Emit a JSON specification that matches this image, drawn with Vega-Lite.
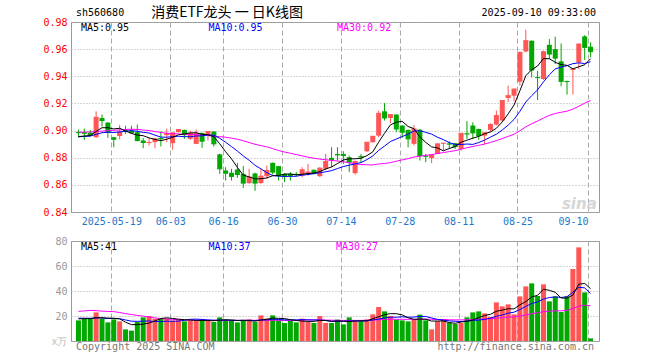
{
"$schema": "https://vega.github.io/schema/vega-lite/v6.json",
"background": "white",
"padding": {"left": 40, "top": 5, "right": 5, "bottom": 5},
"config": {"view": {"stroke": "#999999", "strokeWidth": 1}, "text": {"font": "DejaVu Sans Mono"}},
"spacing": 29,
"bounds": "flush",
"datasets": {"k": [
{"i":0,"d":"2025-05-09","o":0.8990,"h":0.9007,"l":0.8951,"c":0.8985,"v":16.5,"m5":0.8955,"m10":0.8954,"m30":0.8988,"vm5":17.7,"vm10":18.25,"vm30":23.7},
{"i":1,"d":"2025-05-12","o":0.8988,"h":0.9015,"l":0.8931,"c":0.8980,"v":17.9,"m5":0.8960,"m10":0.8957,"m30":0.8989,"vm5":17.88,"vm10":18.24,"vm30":24.1},
{"i":2,"d":"2025-05-13","o":0.8985,"h":0.9005,"l":0.8960,"c":0.8966,"v":17.9,"m5":0.8963,"m10":0.8959,"m30":0.8990,"vm5":17.86,"vm10":18.13,"vm30":24.5},
{"i":3,"d":"2025-05-14","o":0.8951,"h":0.9142,"l":0.8946,"c":0.9098,"v":22.9,"m5":0.8994,"m10":0.8972,"m30":0.8993,"vm5":18.64,"vm10":18.42,"vm30":24.3},
{"i":4,"d":"2025-05-15","o":0.9093,"h":0.9118,"l":0.9030,"c":0.9074,"v":17.9,"m5":0.9021,"m10":0.8984,"m30":0.8996,"vm5":18.62,"vm10":18.41,"vm30":23.9},
{"i":5,"d":"2025-05-16","o":0.9059,"h":0.9061,"l":0.8946,"c":0.8988,"v":14.9,"m5":0.9021,"m10":0.8988,"m30":0.8999,"vm5":18.3,"vm10":18.0,"vm30":23.7},
{"i":6,"d":"2025-05-19","o":0.8951,"h":0.8953,"l":0.8877,"c":0.8936,"v":17.3,"m5":0.9012,"m10":0.8986,"m30":0.9002,"vm5":18.18,"vm10":18.03,"vm30":23.5},
{"i":7,"d":"2025-05-20","o":0.8960,"h":0.9042,"l":0.8935,"c":0.8990,"v":15.7,"m5":0.9017,"m10":0.8990,"m30":0.9005,"vm5":17.74,"vm10":17.8,"vm30":22.8},
{"i":8,"d":"2025-05-21","o":0.9003,"h":0.9035,"l":0.8975,"c":0.8995,"v":9.3,"m5":0.8997,"m10":0.8995,"m30":0.9008,"vm5":15.02,"vm10":16.83,"vm30":21.9},
{"i":9,"d":"2025-05-22","o":0.9000,"h":0.9035,"l":0.8975,"c":0.8985,"v":8.3,"m5":0.8979,"m10":0.9000,"m30":0.9010,"vm5":13.1,"vm10":15.86,"vm30":21.2},
{"i":10,"d":"2025-05-23","o":0.8988,"h":0.9044,"l":0.8920,"c":0.8927,"v":15.2,"m5":0.8967,"m10":0.8994,"m30":0.9008,"vm5":13.16,"vm10":15.73,"vm30":20.5},
{"i":11,"d":"2025-05-26","o":0.8927,"h":0.8946,"l":0.8870,"c":0.8912,"v":18.9,"m5":0.8962,"m10":0.8987,"m30":0.9004,"vm5":13.48,"vm10":15.83,"vm30":19.9},
{"i":12,"d":"2025-05-27","o":0.8909,"h":0.8946,"l":0.8890,"c":0.8912,"v":20.0,"m5":0.8946,"m10":0.8982,"m30":0.9000,"vm5":14.34,"vm10":16.04,"vm30":19.2},
{"i":13,"d":"2025-05-28","o":0.8915,"h":0.8946,"l":0.8870,"c":0.8939,"v":17.9,"m5":0.8935,"m10":0.8966,"m30":0.8993,"vm5":16.06,"vm10":15.54,"vm30":18.5},
{"i":14,"d":"2025-05-29","o":0.8946,"h":0.8995,"l":0.8883,"c":0.8940,"v":17.9,"m5":0.8926,"m10":0.8952,"m30":0.8986,"vm5":17.98,"vm10":15.54,"vm30":17.9},
{"i":15,"d":"2025-05-30","o":0.8966,"h":0.9015,"l":0.8915,"c":0.8975,"v":17.9,"m5":0.8936,"m10":0.8951,"m30":0.8980,"vm5":18.52,"vm10":15.84,"vm30":17.6},
{"i":16,"d":"2025-06-03","o":0.8907,"h":0.8985,"l":0.8858,"c":0.8983,"v":16.5,"m5":0.8950,"m10":0.8956,"m30":0.8977,"vm5":18.04,"vm10":15.76,"vm30":17.3},
{"i":17,"d":"2025-06-04","o":0.8988,"h":0.9010,"l":0.8985,"c":0.9007,"v":17.1,"m5":0.8969,"m10":0.8958,"m30":0.8975,"vm5":17.46,"vm10":15.9,"vm30":17.1},
{"i":18,"d":"2025-06-05","o":0.9005,"h":0.9007,"l":0.8939,"c":0.8970,"v":15.7,"m5":0.8975,"m10":0.8955,"m30":0.8973,"vm5":17.02,"vm10":16.54,"vm30":16.9},
{"i":19,"d":"2025-06-06","o":0.8939,"h":0.9000,"l":0.8931,"c":0.8980,"v":16.5,"m5":0.8983,"m10":0.8955,"m30":0.8971,"vm5":16.74,"vm10":17.36,"vm30":16.8},
{"i":20,"d":"2025-06-09","o":0.8902,"h":0.9007,"l":0.8900,"c":0.8980,"v":16.5,"m5":0.8984,"m10":0.8960,"m30":0.8970,"vm5":16.46,"vm10":17.49,"vm30":16.7},
{"i":21,"d":"2025-06-10","o":0.8983,"h":0.8985,"l":0.8873,"c":0.8922,"v":16.5,"m5":0.8972,"m10":0.8961,"m30":0.8966,"vm5":16.46,"vm10":17.25,"vm30":16.6},
{"i":22,"d":"2025-06-11","o":0.8963,"h":0.8995,"l":0.8927,"c":0.8993,"v":16.5,"m5":0.8969,"m10":0.8969,"m30":0.8963,"vm5":16.34,"vm10":16.9,"vm30":16.5},
{"i":23,"d":"2025-06-12","o":0.8993,"h":0.8995,"l":0.8882,"c":0.8902,"v":15.2,"m5":0.8955,"m10":0.8965,"m30":0.8959,"vm5":16.24,"vm10":16.63,"vm30":16.5},
{"i":24,"d":"2025-06-13","o":0.8825,"h":0.8830,"l":0.8681,"c":0.8718,"v":18.9,"m5":0.8903,"m10":0.8943,"m30":0.8955,"vm5":16.72,"vm10":16.73,"vm30":16.5},
{"i":25,"d":"2025-06-16","o":0.8706,"h":0.8730,"l":0.8632,"c":0.8686,"v":17.3,"m5":0.8844,"m10":0.8914,"m30":0.8951,"vm5":16.88,"vm10":16.67,"vm30":16.5},
{"i":26,"d":"2025-06-17","o":0.8689,"h":0.8718,"l":0.8632,"c":0.8662,"v":16.0,"m5":0.8792,"m10":0.8882,"m30":0.8944,"vm5":16.78,"vm10":16.62,"vm30":16.5},
{"i":27,"d":"2025-06-18","o":0.8713,"h":0.8762,"l":0.8652,"c":0.8676,"v":14.9,"m5":0.8729,"m10":0.8849,"m30":0.8936,"vm5":16.46,"vm10":16.4,"vm30":16.5},
{"i":28,"d":"2025-06-19","o":0.8681,"h":0.8740,"l":0.8578,"c":0.8613,"v":16.0,"m5":0.8671,"m10":0.8813,"m30":0.8925,"vm5":16.62,"vm10":16.43,"vm30":16.5},
{"i":29,"d":"2025-06-20","o":0.8613,"h":0.8718,"l":0.8608,"c":0.8657,"v":17.3,"m5":0.8659,"m10":0.8781,"m30":0.8912,"vm5":16.3,"vm10":16.51,"vm30":16.58},
{"i":30,"d":"2025-06-23","o":0.8684,"h":0.8690,"l":0.8556,"c":0.8613,"v":15.2,"m5":0.8644,"m10":0.8744,"m30":0.8899,"vm5":15.88,"vm10":16.38,"vm30":16.53},
{"i":31,"d":"2025-06-24","o":0.8613,"h":0.8718,"l":0.8608,"c":0.8664,"v":20.5,"m5":0.8645,"m10":0.8718,"m30":0.8889,"vm5":16.78,"vm10":16.78,"vm30":16.62},
{"i":32,"d":"2025-06-25","o":0.8664,"h":0.8743,"l":0.8645,"c":0.8706,"v":17.9,"m5":0.8651,"m10":0.8690,"m30":0.8880,"vm5":17.38,"vm10":16.92,"vm30":16.62},
{"i":33,"d":"2025-06-26","o":0.8762,"h":0.8765,"l":0.8676,"c":0.8694,"v":20.5,"m5":0.8667,"m10":0.8669,"m30":0.8867,"vm5":18.28,"vm10":17.45,"vm30":16.54},
{"i":34,"d":"2025-06-27","o":0.8738,"h":0.8740,"l":0.8632,"c":0.8669,"v":16.5,"m5":0.8669,"m10":0.8664,"m30":0.8853,"vm5":18.12,"vm10":17.21,"vm30":16.49},
{"i":35,"d":"2025-06-30","o":0.8681,"h":0.8686,"l":0.8620,"c":0.8664,"v":14.4,"m5":0.8679,"m10":0.8662,"m30":0.8842,"vm5":17.96,"vm10":16.92,"vm30":16.48},
{"i":36,"d":"2025-07-01","o":0.8681,"h":0.8694,"l":0.8632,"c":0.8669,"v":16.0,"m5":0.8680,"m10":0.8663,"m30":0.8833,"vm5":17.06,"vm10":16.92,"vm30":16.43},
{"i":37,"d":"2025-07-02","o":0.8681,"h":0.8694,"l":0.8664,"c":0.8676,"v":14.9,"m5":0.8674,"m10":0.8663,"m30":0.8823,"vm5":16.46,"vm10":16.92,"vm30":16.41},
{"i":38,"d":"2025-07-03","o":0.8669,"h":0.8730,"l":0.8657,"c":0.8711,"v":17.9,"m5":0.8678,"m10":0.8672,"m30":0.8814,"vm5":15.94,"vm10":17.11,"vm30":16.69},
{"i":39,"d":"2025-07-04","o":0.8681,"h":0.8755,"l":0.8669,"c":0.8694,"v":15.2,"m5":0.8683,"m10":0.8676,"m30":0.8804,"vm5":15.68,"vm10":16.9,"vm30":16.92},
{"i":40,"d":"2025-07-07","o":0.8711,"h":0.8713,"l":0.8676,"c":0.8686,"v":14.4,"m5":0.8687,"m10":0.8683,"m30":0.8796,"vm5":15.68,"vm10":16.82,"vm30":16.9},
{"i":41,"d":"2025-07-08","o":0.8664,"h":0.8730,"l":0.8657,"c":0.8723,"v":20.0,"m5":0.8698,"m10":0.8689,"m30":0.8790,"vm5":16.48,"vm10":16.77,"vm30":16.93},
{"i":42,"d":"2025-07-09","o":0.8718,"h":0.8828,"l":0.8706,"c":0.8772,"v":14.4,"m5":0.8717,"m10":0.8696,"m30":0.8785,"vm5":16.38,"vm10":16.42,"vm30":16.75},
{"i":43,"d":"2025-07-10","o":0.8799,"h":0.8877,"l":0.8730,"c":0.8784,"v":14.4,"m5":0.8732,"m10":0.8705,"m30":0.8780,"vm5":15.68,"vm10":15.81,"vm30":16.63},
{"i":44,"d":"2025-07-11","o":0.8828,"h":0.8877,"l":0.8779,"c":0.8821,"v":17.1,"m5":0.8757,"m10":0.8720,"m30":0.8776,"vm5":16.06,"vm10":15.87,"vm30":16.6},
{"i":45,"d":"2025-07-14","o":0.8828,"h":0.8848,"l":0.8755,"c":0.8816,"v":13.3,"m5":0.8783,"m10":0.8735,"m30":0.8770,"vm5":15.84,"vm10":15.76,"vm30":16.45},
{"i":46,"d":"2025-07-15","o":0.8804,"h":0.8816,"l":0.8694,"c":0.8767,"v":18.9,"m5":0.8792,"m10":0.8745,"m30":0.8763,"vm5":15.62,"vm10":16.05,"vm30":16.53},
{"i":47,"d":"2025-07-16","o":0.8686,"h":0.8779,"l":0.8676,"c":0.8772,"v":15.7,"m5":0.8792,"m10":0.8755,"m30":0.8755,"vm5":15.88,"vm10":16.13,"vm30":16.48},
{"i":48,"d":"2025-07-17","o":0.8811,"h":0.8828,"l":0.8767,"c":0.8806,"v":15.7,"m5":0.8796,"m10":0.8764,"m30":0.8750,"vm5":16.14,"vm10":15.91,"vm30":16.48},
{"i":49,"d":"2025-07-18","o":0.8848,"h":0.8916,"l":0.8841,"c":0.8914,"v":17.3,"m5":0.8815,"m10":0.8786,"m30":0.8748,"vm5":16.18,"vm10":16.12,"vm30":16.51},
{"i":50,"d":"2025-07-21","o":0.8914,"h":0.8960,"l":0.8912,"c":0.8958,"v":21.3,"m5":0.8843,"m10":0.8813,"m30":0.8747,"vm5":17.78,"vm10":16.81,"vm30":16.67},
{"i":51,"d":"2025-07-22","o":0.8963,"h":0.9147,"l":0.8951,"c":0.9127,"v":27.2,"m5":0.8915,"m10":0.8854,"m30":0.8754,"vm5":19.44,"vm10":17.53,"vm30":17.03},
{"i":52,"d":"2025-07-23","o":0.9142,"h":0.9203,"l":0.9074,"c":0.9093,"v":23.7,"m5":0.8980,"m10":0.8886,"m30":0.8757,"vm5":21.04,"vm10":18.46,"vm30":17.27},
{"i":53,"d":"2025-07-24","o":0.9093,"h":0.9120,"l":0.9056,"c":0.9118,"v":20.0,"m5":0.9042,"m10":0.8919,"m30":0.8764,"vm5":21.9,"vm10":19.02,"vm30":17.43},
{"i":54,"d":"2025-07-25","o":0.9118,"h":0.9120,"l":0.8988,"c":0.9012,"v":17.1,"m5":0.9062,"m10":0.8938,"m30":0.8774,"vm5":21.86,"vm10":19.02,"vm30":17.37},
{"i":55,"d":"2025-07-28","o":0.9037,"h":0.9040,"l":0.8946,"c":0.8988,"v":16.5,"m5":0.9068,"m10":0.8956,"m30":0.8784,"vm5":20.9,"vm10":19.34,"vm30":17.34},
{"i":56,"d":"2025-07-29","o":0.9005,"h":0.9007,"l":0.8877,"c":0.8939,"v":15.7,"m5":0.9030,"m10":0.8973,"m30":0.8793,"vm5":18.6,"vm10":19.02,"vm30":17.33},
{"i":57,"d":"2025-07-30","o":0.8902,"h":0.9042,"l":0.8890,"c":0.9012,"v":17.1,"m5":0.9014,"m10":0.8997,"m30":0.8805,"vm5":17.28,"vm10":19.16,"vm30":17.4},
{"i":58,"d":"2025-07-31","o":0.9007,"h":0.9010,"l":0.8779,"c":0.8816,"v":21.1,"m5":0.8953,"m10":0.8998,"m30":0.8811,"vm5":17.5,"vm10":19.7,"vm30":17.57},
{"i":59,"d":"2025-08-01","o":0.8814,"h":0.8828,"l":0.8767,"c":0.8811,"v":16.5,"m5":0.8913,"m10":0.8987,"m30":0.8817,"vm5":17.38,"vm10":19.62,"vm30":17.55},
{"i":60,"d":"2025-08-04","o":0.8797,"h":0.8823,"l":0.8760,"c":0.8821,"v":9.3,"m5":0.8880,"m10":0.8974,"m30":0.8823,"vm5":15.94,"vm10":18.42,"vm30":17.35},
{"i":61,"d":"2025-08-05","o":0.8828,"h":0.8904,"l":0.8826,"c":0.8902,"v":16.0,"m5":0.8872,"m10":0.8951,"m30":0.8831,"vm5":16.0,"vm10":17.3,"vm30":17.2},
{"i":62,"d":"2025-08-06","o":0.8904,"h":0.8909,"l":0.8853,"c":0.8907,"v":17.3,"m5":0.8851,"m10":0.8933,"m30":0.8838,"vm5":16.04,"vm10":16.66,"vm30":17.18},
{"i":63,"d":"2025-08-07","o":0.8904,"h":0.8922,"l":0.8865,"c":0.8900,"v":14.7,"m5":0.8868,"m10":0.8911,"m30":0.8845,"vm5":14.76,"vm10":16.13,"vm30":16.99},
{"i":64,"d":"2025-08-08","o":0.8907,"h":0.8909,"l":0.8865,"c":0.8882,"v":13.6,"m5":0.8882,"m10":0.8898,"m30":0.8852,"vm5":14.18,"vm10":15.78,"vm30":16.89},
{"i":65,"d":"2025-08-11","o":0.8865,"h":0.8982,"l":0.8853,"c":0.8980,"v":14.4,"m5":0.8914,"m10":0.8897,"m30":0.8863,"vm5":15.2,"vm10":15.57,"vm30":16.89},
{"i":66,"d":"2025-08-12","o":0.8978,"h":0.9069,"l":0.8939,"c":0.8975,"v":18.9,"m5":0.8929,"m10":0.8901,"m30":0.8873,"vm5":15.78,"vm10":15.89,"vm30":16.99},
{"i":67,"d":"2025-08-13","o":0.9037,"h":0.9061,"l":0.8939,"c":0.8983,"v":22.9,"m5":0.8944,"m10":0.8898,"m30":0.8883,"vm5":16.9,"vm10":16.47,"vm30":17.25},
{"i":68,"d":"2025-08-14","o":0.9012,"h":0.9014,"l":0.8931,"c":0.8963,"v":23.7,"m5":0.8957,"m10":0.8912,"m30":0.8891,"vm5":18.7,"vm10":16.73,"vm30":17.45},
{"i":69,"d":"2025-08-15","o":0.8963,"h":0.8985,"l":0.8897,"c":0.8983,"v":22.1,"m5":0.8977,"m10":0.8930,"m30":0.8901,"vm5":20.4,"vm10":17.29,"vm30":17.68},
{"i":70,"d":"2025-08-18","o":0.9005,"h":0.9054,"l":0.8988,"c":0.9044,"v":19.2,"m5":0.8990,"m10":0.8952,"m30":0.8913,"vm5":21.36,"vm10":18.28,"vm30":17.84},
{"i":71,"d":"2025-08-19","o":0.9044,"h":0.9147,"l":0.9037,"c":0.9110,"v":30.9,"m5":0.9017,"m10":0.8973,"m30":0.8926,"vm5":23.76,"vm10":19.77,"vm30":18.2},
{"i":72,"d":"2025-08-20","o":0.9074,"h":0.9223,"l":0.9066,"c":0.9221,"v":27.7,"m5":0.9064,"m10":0.9004,"m30":0.8941,"vm5":24.72,"vm10":20.81,"vm30":18.64},
{"i":73,"d":"2025-08-21","o":0.9240,"h":0.9331,"l":0.9208,"c":0.9257,"v":29.3,"m5":0.9123,"m10":0.9040,"m30":0.8957,"vm5":25.84,"vm10":22.27,"vm30":19.14},
{"i":74,"d":"2025-08-22","o":0.9257,"h":0.9308,"l":0.9216,"c":0.9306,"v":21.3,"m5":0.9188,"m10":0.9082,"m30":0.8973,"vm5":25.68,"vm10":23.04,"vm30":19.28},
{"i":75,"d":"2025-08-25","o":0.9360,"h":0.9583,"l":0.9331,"c":0.9576,"v":35.7,"m5":0.9294,"m10":0.9142,"m30":0.8998,"vm5":28.98,"vm10":25.17,"vm30":20.03},
{"i":76,"d":"2025-08-26","o":0.9583,"h":0.9743,"l":0.9576,"c":0.9662,"v":43.7,"m5":0.9404,"m10":0.9211,"m30":0.9028,"vm5":31.54,"vm10":27.65,"vm30":20.85},
{"i":77,"d":"2025-08-27","o":0.9662,"h":0.9664,"l":0.9392,"c":0.9446,"v":46.1,"m5":0.9449,"m10":0.9257,"m30":0.9050,"vm5":35.22,"vm10":29.97,"vm30":21.87},
{"i":78,"d":"2025-08-28","o":0.9394,"h":0.9441,"l":0.9225,"c":0.9390,"v":36.0,"m5":0.9476,"m10":0.9300,"m30":0.9070,"vm5":36.56,"vm10":31.2,"vm30":22.54},
{"i":79,"d":"2025-08-29","o":0.9380,"h":0.9588,"l":0.9373,"c":0.9581,"v":45.3,"m5":0.9531,"m10":0.9359,"m30":0.9092,"vm5":41.36,"vm10":33.52,"vm30":23.48},
{"i":80,"d":"2025-09-01","o":0.9632,"h":0.9674,"l":0.9527,"c":0.9564,"v":31.7,"m5":0.9529,"m10":0.9411,"m30":0.9112,"vm5":40.56,"vm10":34.77,"vm30":23.82},
{"i":81,"d":"2025-09-02","o":0.9600,"h":0.9691,"l":0.9490,"c":0.9534,"v":35.7,"m5":0.9503,"m10":0.9454,"m30":0.9126,"vm5":38.96,"vm10":35.25,"vm30":24.11},
{"i":82,"d":"2025-09-03","o":0.9510,"h":0.9642,"l":0.9326,"c":0.9363,"v":23.2,"m5":0.9486,"m10":0.9468,"m30":0.9135,"vm5":34.38,"vm10":34.8,"vm30":24.09},
{"i":83,"d":"2025-09-04","o":0.9365,"h":0.9368,"l":0.9265,"c":0.9361,"v":35.7,"m5":0.9481,"m10":0.9478,"m30":0.9143,"vm5":34.32,"vm10":35.44,"vm30":24.61},
{"i":84,"d":"2025-09-05","o":0.9446,"h":0.9455,"l":0.9265,"c":0.9453,"v":57.6,"m5":0.9455,"m10":0.9493,"m30":0.9158,"vm5":36.78,"vm10":39.07,"vm30":25.96},
{"i":85,"d":"2025-09-08","o":0.9502,"h":0.9642,"l":0.9453,"c":0.9637,"v":74.9,"m5":0.9470,"m10":0.9499,"m30":0.9179,"vm5":45.42,"vm10":42.99,"vm30":27.91},
{"i":86,"d":"2025-09-09","o":0.9694,"h":0.9703,"l":0.9520,"c":0.9613,"v":38.9,"m5":0.9485,"m10":0.9494,"m30":0.9202,"vm5":46.06,"vm10":42.51,"vm30":28.68},
{"i":87,"d":"2025-09-10","o":0.9618,"h":0.9650,"l":0.9539,"c":0.9581,"v":2.1,"m5":0.9529,"m10":0.9508,"m30":0.9221,"vm5":41.84,"vm10":38.11,"vm30":28.18}
]},
"vconcat": [
{
"width": 528, "height": 190,
"data": {"name": "k"},
"resolve": {"axis": {"x": "independent", "y": "independent"}},
"layer": [
{"mark": {"type": "rule", "strokeWidth": 1},
 "encoding": {
  "x": {"field": "i", "type": "quantitative", "scale": {"domain": [-0.4167, 87.5833], "nice": false, "zero": false},
   "axis": {"orient": "bottom", "values": [5.583, 15.583, 24.583, 34.583, 44.583, 54.583, 64.583, 74.583, 86.583],
    "labelExpr": "datum.value < 10 ? '2025-05-19' : datum.value < 20 ? '06-03' : datum.value < 30 ? '06-16' : datum.value < 40 ? '06-30' : datum.value < 50 ? '07-14' : datum.value < 60 ? '07-28' : datum.value < 70 ? '08-11' : datum.value < 80 ? '08-25' : '09-10'",
    "labelFlush": false, "labelAlign": {"condition": {"test": "datum.value > 80", "value": "right"}, "value": "center"},
    "labelOverlap": false, "labelBound": false, "labelColor": "#2277cc", "labelFont": "DejaVu Sans Mono", "labelFontSize": 10, "labelPadding": 4,
    "grid": true, "gridColor": "#aaaaaa", "gridDash": [5, 3], "ticks": false, "domain": false, "title": null}},
  "y": {"field": "l", "type": "quantitative", "scale": {"domain": [0.84, 0.98], "nice": false, "zero": false},
   "axis": {"orient": "left", "values": [0.84, 0.86, 0.88, 0.9, 0.92, 0.94, 0.96, 0.98], "format": ".2f", "labelColor": "#ff0000", "labelFont": "DejaVu Sans Mono", "labelFontSize": 10, "labelPadding": 4, "labelBound": false, "labelOverlap": false, "labelFlush": false,
    "grid": true, "gridColor": "#aaaaaa", "gridDash": [1, 2], "ticks": false, "domain": false, "title": null, "minExtent": 30, "maxExtent": 30}},
  "y2": {"field": "h"},
  "color": {"condition": {"test": "datum.c >= datum.o", "value": "#ff5555"}, "value": "#00a800"}
 }},
{"mark": {"type": "bar", "width": 5, "orient": "vertical"},
 "encoding": {
  "x": {"field": "i", "type": "quantitative", "scale": {"domain": [-0.4167, 87.5833], "nice": false, "zero": false}, "axis": null},
  "y": {"field": "o", "type": "quantitative", "scale": {"domain": [0.84, 0.98], "nice": false, "zero": false}, "axis": null},
  "y2": {"field": "c"},
  "color": {"condition": {"test": "datum.c >= datum.o", "value": "#ff5555"}, "value": "#00a800"}
 }},
{"mark": {"type": "tick", "orient": "horizontal", "size": 5, "thickness": 1, "opacity": 1},
 "encoding": {
  "x": {"field": "i", "type": "quantitative", "scale": {"domain": [-0.4167, 87.5833], "nice": false, "zero": false}, "axis": null},
  "y": {"field": "c", "type": "quantitative", "scale": {"domain": [0.84, 0.98], "nice": false, "zero": false}, "axis": null},
  "color": {"condition": {"test": "datum.c >= datum.o", "value": "#ff5555"}, "value": "#00a800"}
 }},
{"mark": {"type": "line", "strokeWidth": 1, "color": "#ff00ff"},
 "encoding": {
  "x": {"field": "i", "type": "quantitative", "scale": {"domain": [-0.4167, 87.5833], "nice": false, "zero": false}, "axis": null},
  "y": {"field": "m30", "type": "quantitative", "scale": {"domain": [0.84, 0.98], "nice": false, "zero": false}, "axis": null}
 }},
{"mark": {"type": "line", "strokeWidth": 1, "color": "#0000ff"},
 "encoding": {
  "x": {"field": "i", "type": "quantitative", "scale": {"domain": [-0.4167, 87.5833], "nice": false, "zero": false}, "axis": null},
  "y": {"field": "m10", "type": "quantitative", "scale": {"domain": [0.84, 0.98], "nice": false, "zero": false}, "axis": null}
 }},
{"mark": {"type": "line", "strokeWidth": 1, "color": "#000000"},
 "encoding": {
  "x": {"field": "i", "type": "quantitative", "scale": {"domain": [-0.4167, 87.5833], "nice": false, "zero": false}, "axis": null},
  "y": {"field": "m5", "type": "quantitative", "scale": {"domain": [0.84, 0.98], "nice": false, "zero": false}, "axis": null}
 }},
{"data": {"values": [{}]},
 "mark": {"type": "text", "text": "MA5:0.95", "align": "left", "baseline": "middle", "font": "DejaVu Sans Mono", "fontSize": 10, "color": "#000000"},
 "encoding": {"x": {"datum": 0.4167, "type": "quantitative", "scale": {"domain": [-0.4167, 87.5833], "nice": false, "zero": false}, "axis": null},
  "y": {"datum": 0.9758, "type": "quantitative", "scale": {"domain": [0.84, 0.98], "nice": false, "zero": false}, "axis": null}}},
{"data": {"values": [{}]},
 "mark": {"type": "text", "text": "MA10:0.95", "align": "left", "baseline": "middle", "font": "DejaVu Sans Mono", "fontSize": 10, "color": "#0000ff"},
 "encoding": {"x": {"datum": 22.08, "type": "quantitative", "scale": {"domain": [-0.4167, 87.5833], "nice": false, "zero": false}, "axis": null},
  "y": {"datum": 0.9758, "type": "quantitative", "scale": {"domain": [0.84, 0.98], "nice": false, "zero": false}, "axis": null}}},
{"data": {"values": [{}]},
 "mark": {"type": "text", "text": "MA30:0.92", "align": "left", "baseline": "middle", "font": "DejaVu Sans Mono", "fontSize": 10, "color": "#ff00ff"},
 "encoding": {"x": {"datum": 43.92, "type": "quantitative", "scale": {"domain": [-0.4167, 87.5833], "nice": false, "zero": false}, "axis": null},
  "y": {"datum": 0.9758, "type": "quantitative", "scale": {"domain": [0.84, 0.98], "nice": false, "zero": false}, "axis": null}}},
{"data": {"values": [{}]},
 "mark": {"type": "text", "text": "sh560680", "align": "left", "baseline": "middle", "font": "DejaVu Sans Mono", "fontSize": 10, "color": "#000000"},
 "encoding": {"x": {"datum": -0.4167, "type": "quantitative", "scale": {"domain": [-0.4167, 87.5833], "nice": false, "zero": false}, "axis": null},
  "y": {"datum": 0.98663, "type": "quantitative", "scale": {"domain": [0.84, 0.98], "nice": false, "zero": false}, "axis": null}}},
{"data": {"values": [{}]},
 "mark": {"type": "text", "text": "消费ETF龙头 一 日K线图", "align": "center", "baseline": "middle", "font": "Noto Sans CJK SC", "fontSize": 14, "color": "#000000"},
 "encoding": {"x": {"datum": 25.25, "type": "quantitative", "scale": {"domain": [-0.4167, 87.5833], "nice": false, "zero": false}, "axis": null},
  "y": {"datum": 0.98663, "type": "quantitative", "scale": {"domain": [0.84, 0.98], "nice": false, "zero": false}, "axis": null}}},
{"data": {"values": [{}]},
 "mark": {"type": "text", "text": "2025-09-10 09:33:00", "align": "right", "baseline": "middle", "font": "DejaVu Sans Mono", "fontSize": 10, "color": "#000000"},
 "encoding": {"x": {"datum": 87.92, "type": "quantitative", "scale": {"domain": [-0.4167, 87.5833], "nice": false, "zero": false}, "axis": null},
  "y": {"datum": 0.98663, "type": "quantitative", "scale": {"domain": [0.84, 0.98], "nice": false, "zero": false}, "axis": null}}},
{"data": {"values": [{}]},
 "mark": {"type": "text", "text": "sina", "align": "center", "baseline": "middle", "font": "DejaVu Sans", "fontSize": 15, "fontStyle": "italic", "fontWeight": "bold", "color": "#d6d6d6"},
 "encoding": {"x": {"datum": 85.1, "type": "quantitative", "scale": {"domain": [-0.4167, 87.5833], "nice": false, "zero": false}, "axis": null},
  "y": {"datum": 0.8459, "type": "quantitative", "scale": {"domain": [0.84, 0.98], "nice": false, "zero": false}, "axis": null}}}
]
},
{
"width": 528, "height": 100,
"data": {"name": "k"},
"resolve": {"axis": {"x": "independent", "y": "independent"}},
"layer": [
{"mark": {"type": "bar", "width": 5, "orient": "vertical"},
 "encoding": {
  "x": {"field": "i", "type": "quantitative", "scale": {"domain": [-0.4167, 87.5833], "nice": false, "zero": false},
   "axis": {"orient": "bottom", "values": [5.583, 15.583, 24.583, 34.583, 44.583, 54.583, 64.583, 74.583, 86.583], "labels": false, "grid": true, "gridColor": "#aaaaaa", "gridDash": [5, 3], "ticks": false, "domain": false, "title": null}},
  "y": {"field": "v", "type": "quantitative", "scale": {"domain": [0, 80], "nice": false},
   "axis": {"orient": "left", "values": [0, 20, 40, 60, 80], "labelExpr": "datum.value == 0 ? 'x万' : datum.label",
    "labelColor": {"condition": {"test": "datum.value == 0", "value": "#bbbbbb"}, "value": "#999999"},
    "labelFont": "DejaVu Sans Mono", "labelFontSize": 10, "labelPadding": 4, "labelBound": false, "labelOverlap": false, "labelFlush": false,
    "grid": true, "gridColor": "#aaaaaa", "gridDash": [1, 2], "ticks": false, "domain": false, "title": null, "minExtent": 30, "maxExtent": 30}},
  "color": {"condition": {"test": "datum.c >= datum.o", "value": "#ff5555"}, "value": "#00a800"}
 }},
{"mark": {"type": "line", "strokeWidth": 1, "color": "#ff00ff"},
 "encoding": {
  "x": {"field": "i", "type": "quantitative", "scale": {"domain": [-0.4167, 87.5833], "nice": false, "zero": false}, "axis": null},
  "y": {"field": "vm30", "type": "quantitative", "scale": {"domain": [0, 80], "nice": false}, "axis": null}
 }},
{"mark": {"type": "line", "strokeWidth": 1, "color": "#0000ff"},
 "encoding": {
  "x": {"field": "i", "type": "quantitative", "scale": {"domain": [-0.4167, 87.5833], "nice": false, "zero": false}, "axis": null},
  "y": {"field": "vm10", "type": "quantitative", "scale": {"domain": [0, 80], "nice": false}, "axis": null}
 }},
{"mark": {"type": "line", "strokeWidth": 1, "color": "#000000"},
 "encoding": {
  "x": {"field": "i", "type": "quantitative", "scale": {"domain": [-0.4167, 87.5833], "nice": false, "zero": false}, "axis": null},
  "y": {"field": "vm5", "type": "quantitative", "scale": {"domain": [0, 80], "nice": false}, "axis": null}
 }},
{"data": {"values": [{}]},
 "mark": {"type": "text", "text": "MA5:41", "align": "left", "baseline": "middle", "font": "DejaVu Sans Mono", "fontSize": 10, "color": "#000000"},
 "encoding": {"x": {"datum": 0.4167, "type": "quantitative", "scale": {"domain": [-0.4167, 87.5833], "nice": false, "zero": false}, "axis": null},
  "y": {"datum": 75.2, "type": "quantitative", "scale": {"domain": [0, 80], "nice": false}, "axis": null}}},
{"data": {"values": [{}]},
 "mark": {"type": "text", "text": "MA10:37", "align": "left", "baseline": "middle", "font": "DejaVu Sans Mono", "fontSize": 10, "color": "#0000ff"},
 "encoding": {"x": {"datum": 22.08, "type": "quantitative", "scale": {"domain": [-0.4167, 87.5833], "nice": false, "zero": false}, "axis": null},
  "y": {"datum": 75.2, "type": "quantitative", "scale": {"domain": [0, 80], "nice": false}, "axis": null}}},
{"data": {"values": [{}]},
 "mark": {"type": "text", "text": "MA30:27", "align": "left", "baseline": "middle", "font": "DejaVu Sans Mono", "fontSize": 10, "color": "#ff00ff"},
 "encoding": {"x": {"datum": 43.75, "type": "quantitative", "scale": {"domain": [-0.4167, 87.5833], "nice": false, "zero": false}, "axis": null},
  "y": {"datum": 75.2, "type": "quantitative", "scale": {"domain": [0, 80], "nice": false}, "axis": null}}},
{"data": {"values": [{}]},
 "mark": {"type": "text", "text": "Copyright 2025 SINA.COM", "align": "left", "baseline": "middle", "font": "DejaVu Sans Mono", "fontSize": 10, "color": "#777777"},
 "encoding": {"x": {"datum": -0.4167, "type": "quantitative", "scale": {"domain": [-0.4167, 87.5833], "nice": false, "zero": false}, "axis": null},
  "y": {"datum": -4.8, "type": "quantitative", "scale": {"domain": [0, 80], "nice": false}, "axis": null}}},
{"data": {"values": [{}]},
 "mark": {"type": "text", "text": "http://finance.sina.com.cn", "align": "right", "baseline": "middle", "font": "DejaVu Sans Mono", "fontSize": 10, "color": "#777777"},
 "encoding": {"x": {"datum": 87.5833, "type": "quantitative", "scale": {"domain": [-0.4167, 87.5833], "nice": false, "zero": false}, "axis": null},
  "y": {"datum": -4.8, "type": "quantitative", "scale": {"domain": [0, 80], "nice": false}, "axis": null}}}
]
}
]
}
